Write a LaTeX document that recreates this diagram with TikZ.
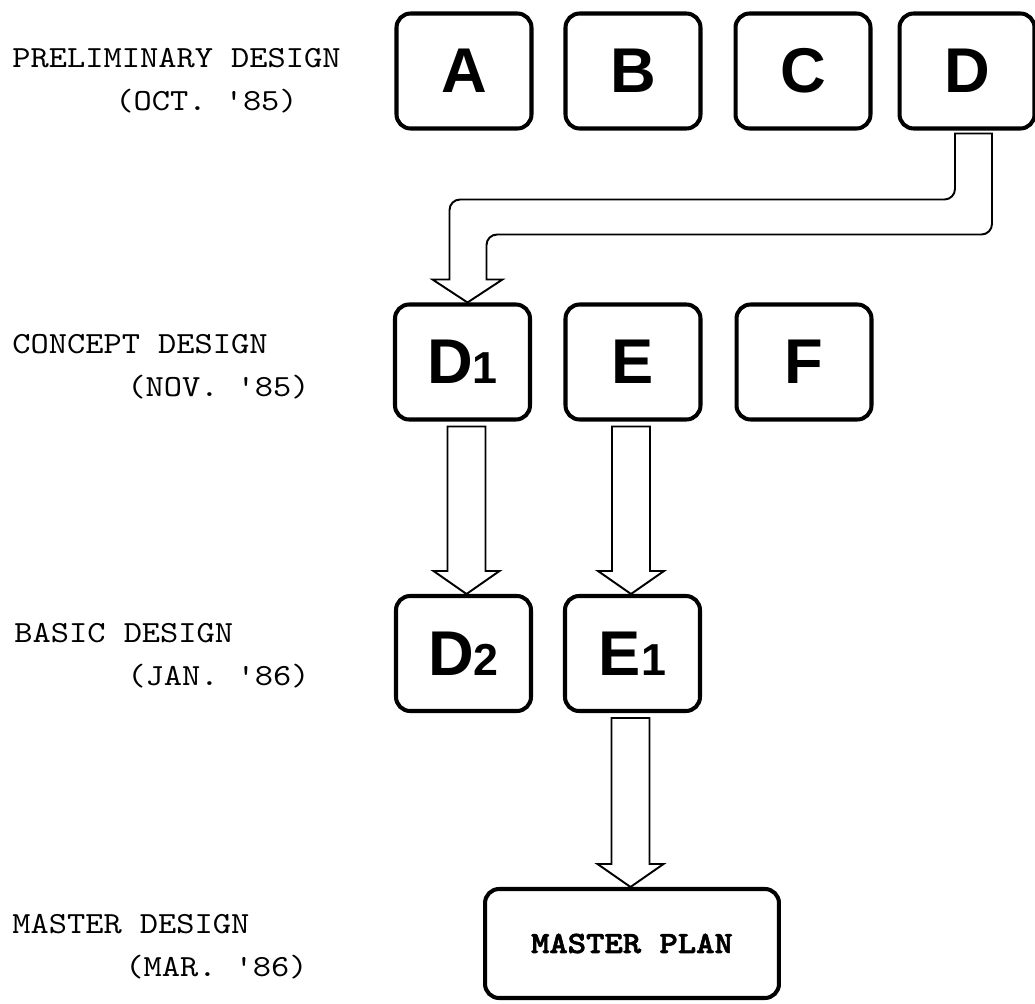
\documentclass[tikz,border=0pt]{standalone}
\usepackage{fontspec}
\newfontfamily\lblfont{lmmono10-regular.otf}[FakeStretch=1.13,BoldFont=lmmonolt10-bold.otf,BoldFeatures={FakeStretch=1.13,FakeBold=2}]
\newfontfamily\boxfont{Liberation Sans}
\usetikzlibrary{calc}

\newcommand{\subdig}[1]{{\fontsize{25.5pt}{26pt}\selectfont #1}}

\begin{document}
\begin{tikzpicture}[x=0.02cm,y=-0.02cm,
  blk/.style={draw,line width=2.3pt,rounded corners=8pt,minimum width=2.7cm,minimum height=2.3cm,inner sep=0pt,
    font=\boxfont\bfseries\fontsize{36pt}{36pt}\selectfont},
  lbl/.style={anchor=base west,inner sep=0pt,font=\lblfont\fontsize{17.5pt}{18pt}\selectfont},
  fat/.style={draw,line width=1.1pt,line join=miter}]
\fill[white] (0,0) rectangle (1035,1004);
\useasboundingbox (0,0) rectangle (1035,1004);

% stage labels
\node[lbl] (prelim) at (12,67) {PRELIMINARY DESIGN};
\node[lbl] (prelimdate) at (115,110) {(OCT. '85)};
\node[lbl] (concept) at (12,353) {CONCEPT DESIGN};
\node[lbl] (conceptdate) at (127,396) {(NOV. '85)};
\node[lbl] (basic) at (14,642) {BASIC DESIGN};
\node[lbl] (basicdate) at (127,685) {(JAN. '86)};
\node[lbl] (masterd) at (12,933) {MASTER DESIGN};
\node[lbl] (masterdate) at (125,976) {(MAR. '86)};

% boxes
\foreach \n/\x in {a/464,b/633,c/803,d/967}
  \node[blk] (\n) at (\x,71) {\MakeUppercase{\n}};
\node[blk] (d1) at (462.5,362) {D\subdig{1}};
\node[blk] (e) at (633,362) {E};
\node[blk] (f) at (804,362) {F};
\node[blk] (d2) at (463.5,653.5) {D\subdig{2}};
\node[blk] (e1) at (632.5,653.5) {E\subdig{1}};
\node[blk,minimum width=5.88cm,minimum height=2.18cm,font=\lblfont\bfseries\fontsize{17.6pt}{18pt}\selectfont]
  (master) at (632,943.5) {MASTER PLAN};

% bent arrow D -> D1
\draw[fat] ($(d.south)+(-12,3)$) [rounded corners=6pt]
  -- ($(d.south)+(-12,69)$) -| ($(d1.north)+(-13,-40)$) [sharp corners]
  -- ($(d1.north)+(-13,-23)$) -- ($(d1.north)+(-30,-23)$) -- ($(d1.north)+(5,0)$)
  -- ($(d1.north)+(40,-23)$) -- ($(d1.north)+(24,-23)$)
  -- ($(d1.north)+(24,-40)$) [rounded corners=6pt]
  |- ($(d.south)+(25,104)$) -- ($(d.south)+(25,20)$) [sharp corners]
  -- ($(d.south)+(25,3)$) -- cycle;

% straight arrows
\foreach \s/\t/\o in {d1/d2/4,e/e1/-2,e1/master/-2}
  \draw[fat] ($(\s.south)+(\o-19,5)$) -- ($(\s.south |- \t.north)+(\o-19,-23)$) -- ++(-14,0)
    -- ($(\s.south |- \t.north)+(\o,0)$) -- ++(33,-23) -- ++(-14,0) -- ($(\s.south)+(\o+19,5)$) -- cycle;
\end{tikzpicture}
\end{document}
